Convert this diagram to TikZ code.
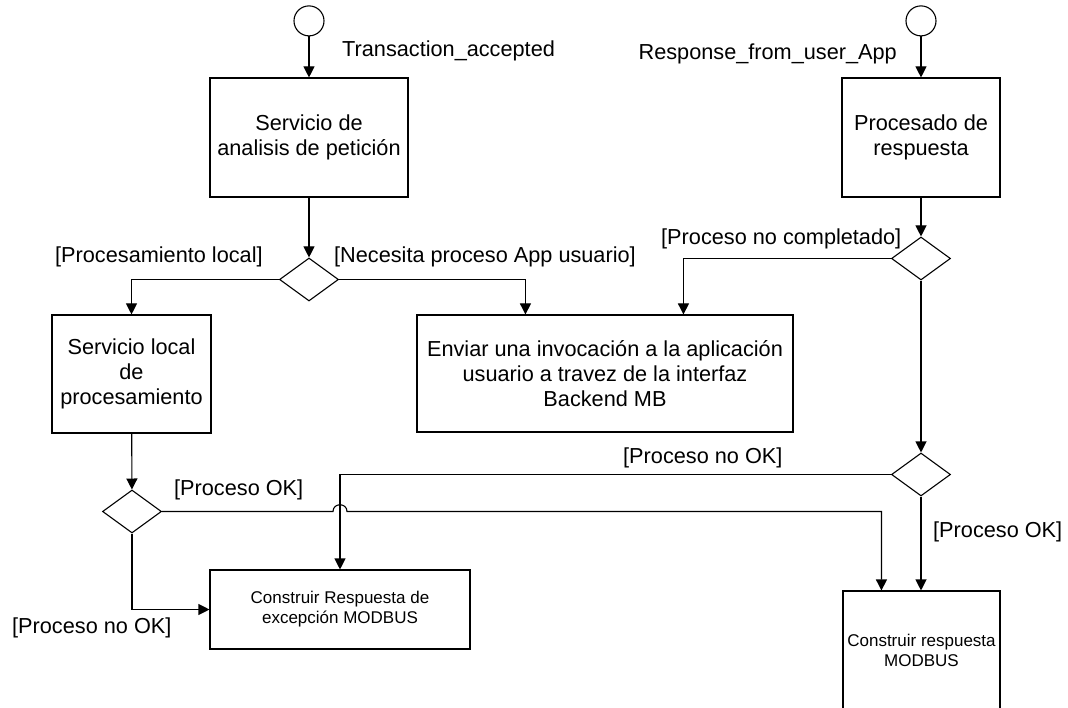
\documentclass[tikz,border=0pt]{standalone}
\usepackage{fontspec}
\setmainfont{Liberation Sans}
\usetikzlibrary{arrows.meta,positioning,shapes.geometric}
\tikzset{actbox/.style={
    % The shape:
    rectangle,
    inner sep=0pt,
    % The border:
    draw=black,
    line width=1.1pt,
    % Font
    font=\fontsize{21.7pt}{25pt}\selectfont,
    align=center,
    },
    smallbox/.style={
    actbox,
    font=\fontsize{17pt}{20pt}\selectfont,
    },
    decision/.style={
    diamond,
    inner sep=0pt,
    minimum width=59pt,
    minimum height=43pt,
    draw=black,
    line width=1.1pt,
    },
    initial/.style={
    circle,
    inner sep=0pt,
    minimum size=30pt,
    draw=black,
    line width=1.1pt,
    },
    guard/.style={
    inner sep=0pt,
    font=\fontsize{21.7pt}{25pt}\selectfont,
    },
    flow/.style={
    line width=1.1pt,
    -{Triangle[length=11pt,width=11pt]},
    },
}

\begin{document}
\begin{tikzpicture}[x=1pt,y=-1pt]
    \path[use as bounding box] (0,0) rectangle (1068,708);
    \clip (0,0) rectangle (1068,708);

    % left column
    \node (analisis) [actbox,minimum width=198pt,minimum height=119pt] at (309,137.5) {Servicio de\\analisis de petición};
    \node (start1)   [initial,above=41pt of analisis] {};
    \node (d1)       [decision] at (309,279.5) {};
    \node (local)    [actbox,minimum width=159pt,minimum height=118pt] at (131.5,374) {Servicio local\\de\\procesamiento};
    \node (d4)       [decision] at (132,511.5) {};
    \node (excep)    [smallbox,minimum width=260pt,minimum height=79pt] at (340,609.5) {Construir Respuesta de\\excepción MODBUS};

    % right column
    \node (procresp) [actbox,minimum width=158pt,minimum height=119pt] at (921,137.5) {Procesado de\\respuesta};
    \node (start2)   [initial,above=41pt of procresp] {};
    \node (d2)       [decision] at (921,258.5) {};
    \node (d3)       [decision] at (921,474.5) {};
    \node (invoca)   [actbox,minimum width=376pt,minimum height=117pt] at (605,373.5) {Enviar una invocación a la aplicación\\usuario a travez de la interfaz\\Backend MB};
    \node (resp)     [smallbox,minimum width=157pt,minimum height=118pt] at (921.5,650) {Construir respuesta\\MODBUS};

    % guards
    \node (lblTA)    [guard,anchor=base west] at (342,57)  {Transaction\_accepted};
    \node (lblRU)    [guard,anchor=base east] at (897,60)  {Response\_from\_user\_App};
    \node (lblPL)    [guard,anchor=base west] at (55,263)  {[Procesamiento local]};
    \node (lblNP)    [guard,anchor=base west] at (334,263) {[Necesita proceso App usuario]};
    \node (lblPNC)   [guard,anchor=base west] at (661,245) {[Proceso no completado]};
    \node (lblNOK1)  [guard,anchor=base west] at (623,463) {[Proceso no OK]};
    \node (lblOK1)   [guard,anchor=base west] at (174,495) {[Proceso OK]};
    \node (lblOK2)   [guard,anchor=base west] at (933,537) {[Proceso OK]};
    \node (lblNOK2)  [guard,anchor=base west] at (12,633)  {[Proceso no OK]};

    % connectors
    \draw[flow] (start1) -- (analisis);
    \draw[flow] (analisis) -- (d1);
    \draw[flow] (d1.west) -| (local.north);
    \draw[flow] (d1.east) -| ([xshift=109pt]invoca.north west);
    \draw[flow] (local) -- (d4);
    \draw[flow] (d4.south) |- (excep.west);
    \coordinate (hop) at (d4.east -| excep.north);
    \draw[flow] (d4.east) -- ([xshift=-7pt]hop)
        .. controls ([xshift=-7pt,yshift=9pt]hop) and ([xshift=7pt,yshift=9pt]hop) .. ([xshift=7pt]hop)
        -| ([xshift=39pt]resp.north west);

    \draw[flow] (start2) -- (procresp);
    \draw[flow] (procresp) -- (d2);
    \draw[flow] (d2.west) -| ([xshift=267pt]invoca.north west);
    \draw[flow] (d2.south) -- (d3.north);
    \draw[flow] (d3.west) -| (excep.north);
    \draw[flow] (d3.south) -- ([xshift=-0.5pt]resp.north);
\end{tikzpicture}
\end{document}
